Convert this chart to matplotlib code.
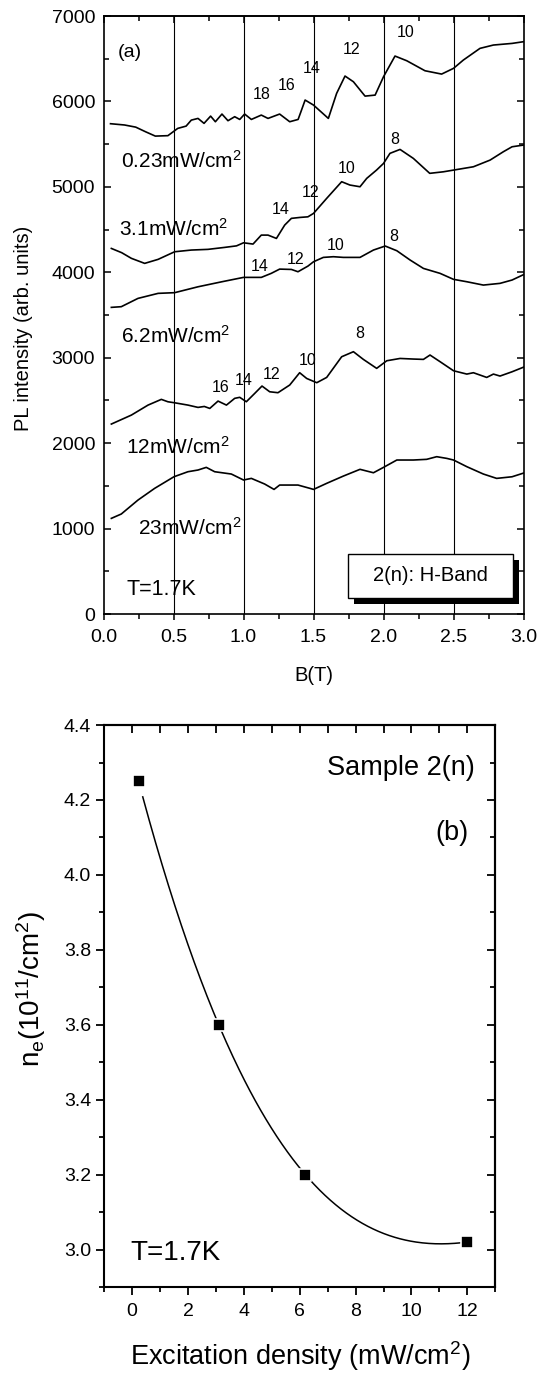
import numpy as np
import matplotlib
matplotlib.use("Agg")
import matplotlib.pyplot as plt
from matplotlib.ticker import MultipleLocator, NullFormatter, FormatStrFormatter
from matplotlib.patches import Rectangle

plt.rcParams['font.family'] = ['Liberation Sans', 'DejaVu Sans']
plt.rcParams['mathtext.fontset'] = 'custom'
plt.rcParams['mathtext.rm'] = 'Liberation Sans'
plt.rcParams['mathtext.it'] = 'Liberation Sans:italic'
plt.rcParams['mathtext.default'] = 'regular'

# ---------------- panel (a) data ----------------
B_023 = [0.05, 0.15, 0.23, 0.30, 0.37, 0.46, 0.53, 0.59, 0.627, 0.675, 0.718, 0.765, 0.799, 0.846,
         0.889, 0.937, 0.973, 1.008, 1.056, 1.127, 1.175, 1.258, 1.33, 1.39, 1.41, 1.44, 1.50,
         1.606, 1.665, 1.725, 1.785, 1.868, 1.94, 2.0, 2.082, 2.166, 2.296, 2.415, 2.5, 2.57,
         2.689, 2.785, 2.918, 3.0]
I_023 = [5740, 5725, 5700, 5646, 5595, 5600, 5685, 5712, 5782, 5802, 5744, 5829, 5763, 5853,
         5775, 5822, 5790, 5853, 5790, 5841, 5802, 5853, 5763, 5790, 5880, 6017, 5958,
         5802, 6095, 6298, 6231, 6063, 6075, 6290, 6532, 6477, 6360, 6321, 6388, 6485,
         6622, 6661, 6680, 6700]

B_31 = [0.056, 0.13, 0.199, 0.294, 0.39, 0.508, 0.627, 0.746, 0.865, 0.95, 1.0, 1.068, 1.127,
        1.175, 1.235, 1.294, 1.342, 1.404, 1.46, 1.5, 1.594, 1.701, 1.76, 1.832, 1.88, 1.95,
        2.0, 2.046, 2.118, 2.213, 2.33, 2.427, 2.5, 2.642, 2.761, 2.856, 2.918, 3.0]
I_31 = [4280, 4230, 4164, 4105, 4152, 4241, 4261, 4269, 4292, 4310, 4346, 4331, 4436,
        4436, 4397, 4553, 4632, 4643, 4650, 4690, 4866, 5061, 5022, 5002, 5100, 5197,
        5275, 5393, 5439, 5334, 5159, 5177, 5197, 5236, 5314, 5412, 5470, 5490]

B_62 = [0.056, 0.127, 0.246, 0.39, 0.508, 0.675, 0.846, 1.0, 1.127, 1.198, 1.258, 1.342, 1.389,
        1.46, 1.5, 1.57, 1.642, 1.713, 1.832, 1.928, 2.012, 2.095, 2.19, 2.285, 2.404, 2.5,
        2.595, 2.713, 2.832, 2.918, 3.0]
I_62 = [3590, 3598, 3695, 3754, 3762, 3831, 3890, 3941, 3941, 3988, 4038, 4034, 4007,
        4073, 4124, 4175, 4183, 4175, 4175, 4261, 4308, 4253, 4144, 4046, 3988, 3918,
        3890, 3851, 3871, 3910, 3973]

B_12 = [0.056, 0.199, 0.318, 0.413, 0.46, 0.508, 0.603, 0.675, 0.72, 0.759, 0.818, 0.878, 0.937,
        0.973, 1.02, 1.08, 1.132, 1.187, 1.246, 1.33, 1.401, 1.451, 1.523, 1.594, 1.701, 1.785,
        1.856, 1.951, 2.023, 2.118, 2.213, 2.285, 2.332, 2.404, 2.5, 2.595, 2.642, 2.737,
        2.785, 2.832, 2.918, 3.0]
I_12 = [2224, 2329, 2446, 2513, 2485, 2473, 2446, 2419, 2430, 2407, 2493, 2446, 2525,
        2537, 2485, 2583, 2669, 2602, 2591, 2681, 2825, 2758, 2708, 2770, 3012, 3071,
        2981, 2876, 2965, 2992, 2985, 2981, 3032, 2954, 2848, 2809, 2825, 2770,
        2809, 2786, 2836, 2890]

B_23 = [0.056, 0.127, 0.246, 0.365, 0.503, 0.603, 0.675, 0.734, 0.794, 0.913, 1.0, 1.056, 1.151,
        1.218, 1.258, 1.389, 1.475, 1.5, 1.594, 1.713, 1.832, 1.928, 2.0, 2.095, 2.213, 2.308,
        2.38, 2.452, 2.5, 2.595, 2.713, 2.808, 2.918, 3.0]
I_23 = [1120, 1171, 1334, 1471, 1607, 1666, 1686, 1717, 1666, 1639, 1569, 1588, 1522,
        1459, 1510, 1510, 1471, 1459, 1530, 1615, 1694, 1654, 1717, 1803, 1803, 1811,
        1842, 1822, 1803, 1725, 1639, 1588, 1607, 1650]

grid_B = [0.5, 1.0, 1.5, 2.0, 2.5]

power_labels = ["0.23mW/cm$^2$", "3.1mW/cm$^2$", "6.2mW/cm$^2$", "12mW/cm$^2$", "23mW/cm$^2$"]
power_label_pos = [(0.126, 5219), (0.114, 4430), (0.126, 3179), (0.158, 1875), (0.244, 922)]

peak_labels = ["18", "16", "14", "12", "10",
               "8", "10", "12", "14",
               "8", "10", "12", "14",
               "8", "10", "12", "14", "16"]
peak_pos = [(1.133, 6082), (1.305, 6188), (1.489, 6383), (1.771, 6605), (2.159, 6805),
            (2.083, 5551), (1.735, 5211), (1.477, 4930), (1.263, 4730),
            (2.073, 4418), (1.661, 4313), (1.371, 4156), (1.113, 4071),
            (1.833, 3288), (1.46, 2965), (1.202, 2809), (0.998, 2739), (0.838, 2654)]

# ---------------- panel (b) data ----------------
exc_density = [0.23, 3.1, 6.2, 12.0]
n_e = [4.25, 3.60, 3.20, 3.02]

fig = plt.figure(figsize=(5.38, 13.74), dpi=100)

# ================= panel (a) =================
ax1 = fig.add_axes([0.1924, 0.5531, 0.7807, 0.4352])
curves = [(B_023, I_023), (B_31, I_31), (B_62, I_62), (B_12, I_12), (B_23, I_23)]
for Bv, Iv in curves:
    ax1.plot(Bv, Iv, color='black', lw=1.2, solid_joinstyle='round')
for v in grid_B:
    ax1.axvline(v, color='black', lw=0.8, zorder=1)

ax1.set_xlim(0, 3.0)
ax1.set_ylim(0, 7000)
ax1.xaxis.set_major_locator(MultipleLocator(0.5))
ax1.xaxis.set_minor_locator(MultipleLocator(0.25))
ax1.yaxis.set_major_locator(MultipleLocator(1000))
ax1.yaxis.set_minor_locator(MultipleLocator(500))
ax1.xaxis.set_major_formatter(FormatStrFormatter('%.1f'))
ax1.tick_params(axis='x', which='both', direction='out', top=False, labelsize=14, pad=6, width=1.1)
ax1.tick_params(axis='x', which='major', length=4.5)
ax1.tick_params(axis='x', which='minor', length=3.5)
ax1.tick_params(axis='y', which='both', direction='in', right=True, labelsize=14, pad=6, width=1.1)
ax1.tick_params(axis='y', which='major', length=5)
ax1.tick_params(axis='y', which='minor', length=3.5)
for s in ax1.spines.values():
    s.set_linewidth(1.2)
sx1 = ax1.secondary_xaxis('top')
sx1.xaxis.set_major_locator(MultipleLocator(0.5))
sx1.xaxis.set_minor_locator(MultipleLocator(0.25))
sx1.xaxis.set_major_formatter(NullFormatter())
sx1.tick_params(which='both', direction='in', width=1.1)
sx1.tick_params(which='major', length=5)
sx1.tick_params(which='minor', length=3.5)
sx1.spines['top'].set_linewidth(1.2)

ax1.set_xlabel('B(T)', fontsize=14.5)
ax1.xaxis.set_label_coords(0.5, -0.087)
ax1.set_ylabel('PL intensity (arb. units)', fontsize=14.5)
ax1.yaxis.set_label_coords(-0.169, 0.478)

ax1.text(0.102, 6578, '(a)', fontsize=14, ha='left', va='center')
for lab, (x, y) in zip(peak_labels, peak_pos):
    ax1.text(x, y, lab, fontsize=11.5, ha='center', va='center')
for lab, (x, y) in zip(power_labels, power_label_pos):
    ax1.text(x, y, lab, fontsize=15, ha='left', va='baseline')
ax1.text(0.163, 222, 'T=1.7K', fontsize=15.5, ha='left', va='baseline')

bx0, bx1, by0, by1 = 0.5823, 0.9753, 0.0273, 0.1011
ax1.add_patch(Rectangle((bx0 + 0.0137, by0 - 0.0106), bx1 - bx0, by1 - by0,
                        transform=ax1.transAxes, facecolor='black', edgecolor='black',
                        lw=0, zorder=4))
ax1.add_patch(Rectangle((bx0, by0), bx1 - bx0, by1 - by0, transform=ax1.transAxes,
                        facecolor='white', edgecolor='black', lw=1.0, zorder=5))
ax1.text((bx0 + bx1) / 2, (by0 + by1) / 2, '2(n): H-Band', transform=ax1.transAxes,
         fontsize=14.5, ha='center', va='center', zorder=6)

# ================= panel (b) =================
ax2 = fig.add_axes([0.1937, 0.0633, 0.7269, 0.4090])
# smooth curve through the four measured points (cubic interpolation)
coef = np.polyfit(np.array(exc_density), np.array(n_e), 3)
xf = np.linspace(0.38, 11.85, 300)
yf = np.polyval(coef, xf)
ax2.plot(xf, yf, color='black', lw=1.1, zorder=2)
ax2.plot(exc_density, n_e, linestyle='none', marker='s', ms=8, mfc='black', mec='white',
         mew=1.2, zorder=3)

ax2.set_xlim(-1, 13)
ax2.set_ylim(2.9, 4.4)
ax2.xaxis.set_major_locator(MultipleLocator(2))
ax2.xaxis.set_minor_locator(MultipleLocator(1))
ax2.yaxis.set_major_locator(MultipleLocator(0.2))
ax2.yaxis.set_minor_locator(MultipleLocator(0.1))
ax2.yaxis.set_major_formatter(FormatStrFormatter('%.1f'))
ax2.tick_params(which='both', direction='out', top=False, right=False, labelsize=14, width=1.3)
ax2.tick_params(which='major', length=5.5)
ax2.tick_params(which='minor', length=3.5)
ax2.tick_params(axis='x', pad=6)
ax2.tick_params(axis='y', pad=4)
for s in ax2.spines.values():
    s.set_linewidth(1.5)
sx2 = ax2.secondary_xaxis('top')
sx2.xaxis.set_major_locator(MultipleLocator(2))
sx2.xaxis.set_minor_locator(MultipleLocator(1))
sx2.xaxis.set_major_formatter(NullFormatter())
sx2.tick_params(which='both', direction='in', width=1.3)
sx2.tick_params(which='major', length=5.5)
sx2.tick_params(which='minor', length=5.5)
sx2.spines['top'].set_linewidth(1.5)
sy2 = ax2.secondary_yaxis('right')
sy2.yaxis.set_major_locator(MultipleLocator(0.2))
sy2.yaxis.set_minor_locator(MultipleLocator(0.1))
sy2.yaxis.set_major_formatter(NullFormatter())
sy2.tick_params(which='both', direction='in', width=1.3)
sy2.tick_params(which='major', length=5.5)
sy2.tick_params(which='minor', length=3.5)
sy2.spines['right'].set_linewidth(1.5)

ax2.set_xlabel('Excitation density (mW/cm$^2$)', fontsize=19.5)
ax2.xaxis.set_label_coords(0.5, -0.092)
ax2.set_ylabel('n$_e$(10$^{11}$/cm$^2$)', fontsize=20)
ax2.yaxis.set_label_coords(-0.144, 0.53)

ax2.text(12.28, 4.286, 'Sample 2(n)', fontsize=19.5, ha='right', va='center')
ax2.text(12.04, 4.112, '(b)', fontsize=19.5, ha='right', va='center')
ax2.text(-0.06, 2.992, 'T=1.7K', fontsize=20, ha='left', va='center')

fig.savefig('out.png', dpi=100)
